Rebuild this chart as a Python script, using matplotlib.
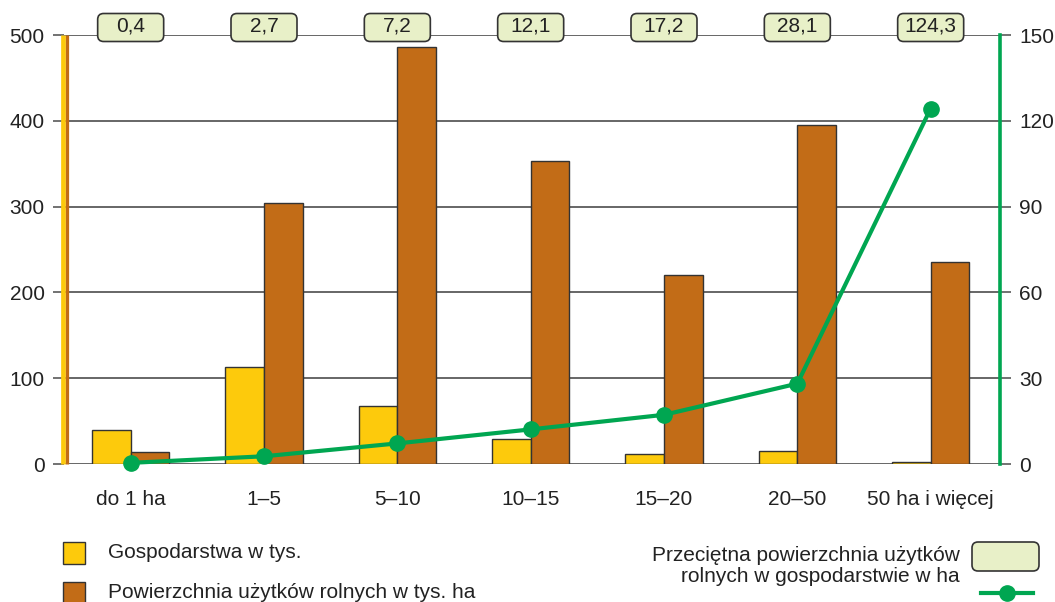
import matplotlib.pyplot as plt
import numpy as np
from matplotlib.patches import Rectangle, FancyBboxPatch
from matplotlib.lines import Line2D

# dane
kategorie = ["do 1 ha", "1–5", "5–10", "10–15", "15–20", "20–50", "50 ha i więcej"]
gospodarstwa = [40, 113, 68, 29, 12, 15, 2]
powierzchnia = [14, 304, 486, 353, 220, 395, 235]
srednia = [0.4, 2.7, 7.2, 12.1, 17.2, 28.1, 124.3]
srednia_txt = ["0,4", "2,7", "7,2", "12,1", "17,2", "28,1", "124,3"]

YELLOW = "#fdca0c"
ORANGE = "#c26c17"
GREEN = "#00a651"
BOX = "#e8f0c8"
EDGE = "#333333"
GRID = "#5a5a5a"
TXT = "#222222"
FS = 15

plt.rcParams["font.family"] = ["Liberation Sans", "DejaVu Sans"]

W, H = 1055, 602
fig = plt.figure(figsize=(W / 100, H / 100), dpi=100)
ax = fig.add_axes([64 / W, 138 / H, 936 / W, 429 / H])
x = np.arange(len(kategorie))
w = 0.29

ax.bar(x - w / 2, gospodarstwa, w, color=YELLOW, edgecolor=EDGE, linewidth=1, zorder=3)
ax.bar(x + w / 2, powierzchnia, w, color=ORANGE, edgecolor=EDGE, linewidth=1, zorder=3)

ax.set_xlim(-0.5, 6.52)
ax.set_ylim(0, 500)
ax.set_yticks(range(0, 501, 100))
ax.set_xticks(x)
ax.set_xticklabels(kategorie, fontsize=FS)
ax.tick_params(axis="x", length=0, pad=19, colors=TXT)
ax.tick_params(axis="y", length=8, width=1.2, color=GRID, labelsize=FS, pad=6,
               labelcolor=TXT)
ax.yaxis.grid(True, color=GRID, linewidth=1.3, zorder=0)
ax.set_axisbelow(True)
for s in ["top", "right", "bottom", "left"]:
    ax.spines[s].set_visible(False)

# lewa os: pasek zolty + pomaranczowy
ax.plot([-0.0015, -0.0015], [0, 1], transform=ax.transAxes, color=YELLOW, lw=3.4,
        clip_on=False, zorder=5, solid_capstyle="butt")
ax.plot([0.0033, 0.0033], [0, 1], transform=ax.transAxes, color=ORANGE, lw=2.3,
        clip_on=False, zorder=5, solid_capstyle="butt")

# prawa os
ax2 = ax.twinx()
ax2.set_ylim(0, 150)
ax2.set_yticks(range(0, 151, 30))
ax2.tick_params(axis="y", length=8, width=1.2, color=GRID, labelsize=FS, pad=6,
                labelcolor=TXT)
for s in ["top", "left", "bottom"]:
    ax2.spines[s].set_visible(False)
ax2.spines["right"].set_color(GREEN)
ax2.spines["right"].set_linewidth(2.6)
ax2.plot(x, srednia, color=GREEN, lw=3, marker="o", markersize=11, zorder=6,
         clip_on=False)

# etykiety w ramkach nad wykresem (stala szerokosc)
box_w, box_h = 66, 28
for xi, t in zip(x, srednia_txt):
    cx = ax.transData.transform((xi, 0))[0]
    cy = H - 27.5
    fig.patches.append(FancyBboxPatch((cx - box_w / 2, cy - box_h / 2), box_w, box_h,
                                      boxstyle="round,pad=0,rounding_size=6",
                                      transform=None, fc=BOX, ec=EDGE, lw=1.2,
                                      zorder=7))
    fig.text(cx / W, (cy + 1) / H, t, ha="center", va="center", fontsize=FS,
             color=TXT, zorder=8)

# legenda
fig.patches.append(Rectangle((63 / W, 1 - 564 / H), 22 / W, 22 / H,
                             transform=fig.transFigure, fc=YELLOW, ec=EDGE, lw=1))
fig.patches.append(Rectangle((63 / W, 1 - 604 / H), 22 / W, 22 / H,
                             transform=fig.transFigure, fc=ORANGE, ec=EDGE, lw=1))
fig.text(108 / W, 1 - 553 / H, "Gospodarstwa w tys.", fontsize=FS,
         va="center", color=TXT)
fig.text(108 / W, 1 - 593 / H, "Powierzchnia użytków rolnych w tys. ha",
         fontsize=FS, va="center", color=TXT)
fig.text(960 / W, 1 - 566 / H,
         "Przeciętna powierzchnia użytków\nrolnych w gospodarstwie w ha",
         fontsize=FS, ha="right", va="center", multialignment="right",
         color=TXT, linespacing=1.1)
fig.patches.append(FancyBboxPatch((972, H - 571), 67, 29,
                                  boxstyle="round,pad=0,rounding_size=6",
                                  transform=None, fc=BOX, ec=EDGE, lw=1.2))
fig.lines.append(Line2D([981 / W, 1033 / W], [1 - 593 / H, 1 - 593 / H],
                        transform=fig.transFigure, color=GREEN, lw=3))
fig.lines.append(Line2D([1007 / W], [1 - 593 / H], transform=fig.transFigure,
                        color=GREEN, marker="o", markersize=11, lw=0))

fig.savefig("out.png", dpi=100)
